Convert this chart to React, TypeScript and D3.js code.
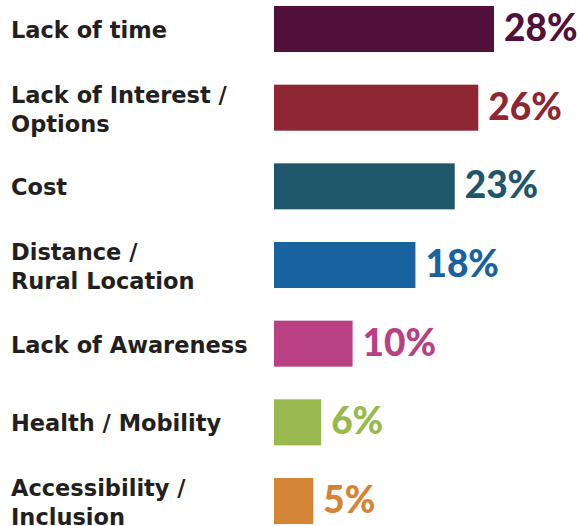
import React from "react";
import * as d3 from "d3";

const categories: string[][] = [
  ["Lack of time"],
  ["Lack of Interest /", "Options"],
  ["Cost"],
  ["Distance /", "Rural Location"],
  ["Lack of Awareness"],
  ["Health / Mobility"],
  ["Accessibility /", "Inclusion"],
];
const values: number[] = [28, 26, 23, 18, 10, 6, 5];
const colors: string[] = ["#52113a", "#8e2634", "#20566b", "#1862a0", "#b84083", "#99b94e", "#d38434"];

const W = 581;
const H = 526;
const X0 = 274;

export default function App() {
  const ids = categories.map((_, i) => String(i));
  const y = d3.scaleBand<string>().domain(ids).range([6, 524]).paddingInner(0.415).paddingOuter(0);
  const x = d3.scaleLinear().domain([0, 28]).range([0, 220]);
  const bw = y.bandwidth();
  return (
    <svg width={W} height={H} style={{ position: "absolute", left: 0, top: 0, background: "#fff" }}>
      {values.map((v, i) => {
        const y0 = y(String(i)) as number;
        const c = y0 + bw / 2;
        const lines = categories[i];
        return (
          <g key={i}>
            <rect x={X0} y={y0} width={x(v)} height={bw} fill={colors[i]} />
            <text
              x={X0 + x(v) + 10}
              y={c + 12}
              fill={colors[i]}
              fontFamily="Lato, sans-serif"
              fontWeight={900}
              fontSize={37}
            >
              {v + "%"}
            </text>
            {lines.map((l, j) => (
              <text
                key={j}
                x={11}
                y={lines.length === 1 ? c + 9 : c - 5 + j * 29}
                fill="#231f20"
                fontFamily="'DejaVu Sans', sans-serif"
                fontWeight={700}
                fontSize={22.5}
              >
                {l}
              </text>
            ))}
          </g>
        );
      })}
    </svg>
  );
}
